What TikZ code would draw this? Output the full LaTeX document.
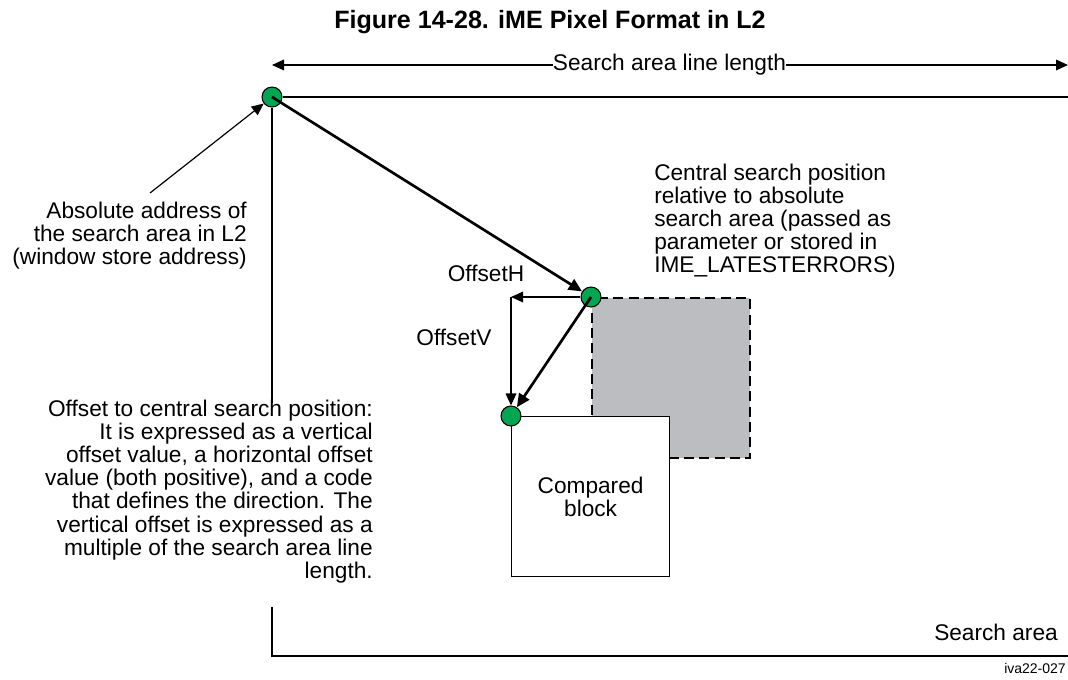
\documentclass[tikz,border=0pt]{standalone}
\usepackage{fontspec}
\setmainfont{Liberation Sans}
\usetikzlibrary{arrows.meta,positioning,calc}
\definecolor{dotgreen}{RGB}{0,166,81}
\definecolor{wingray}{RGB}{188,189,193}

\begin{document}
\begin{tikzpicture}[x=0.75pt, y=-0.75pt,
  arrow/.style={-{Triangle[length=9pt,width=8pt]}, line width=0.9pt},
  bigarrow/.style={-{Triangle[length=10pt,width=9pt]}, line width=2pt},
  dot/.style={draw, circle, fill=dotgreen, minimum size=15pt, inner sep=0pt, line width=0.8pt},
  txt/.style={font=\fontsize{17}{17.3}\selectfont, inner sep=0pt}]
\useasboundingbox (0,0) rectangle (1068,679);
\node[font=\fontsize{18.8}{20}\selectfont\bfseries] (title) at (550,22) {Figure 14-28. iME Pixel Format in L2};

\node[txt] (len) at (669.5,65) {Search area line length};
\coordinate (lenL) at (272,65);
\coordinate (lenR) at (1068,65);
\draw[arrow] (len.west) -- (lenL);
\draw[arrow] (len.east) -- (lenR);

\node[draw, fill=wingray, dash pattern=on 7.5pt off 4pt, line width=1.5pt, minimum width=118.5pt, minimum height=120pt, anchor=north west, inner sep=0pt] (win) at (591,297) {};
\node[txt, draw, fill=white, line width=0.9pt, minimum width=118.5pt, minimum height=120pt, anchor=north west, align=center] (cmp) at (511,416) {Compared\\block};

\node[dot] (A) at (272,97) {};
\node[dot] (B) at (591,297) {};
\node[dot] (C) at (511,416) {};

\coordinate (saTR) at (1068,97);
\coordinate (gapT) at (272,403);
\coordinate (gapB) at (272,607);
\coordinate (saBL) at (272,656);
\coordinate (saBR) at (1068,656);
\draw[line width=0.9pt] (A) -- (saTR);
\draw[line width=0.9pt] (A) -- (gapT);
\draw[line width=0.9pt] (gapB) -- (saBL) -- (saBR);

\node[txt] (offH) at (486,273) {OffsetH};
\node[txt] (offV) at (454,337) {OffsetV};
\coordinate (corner) at (511,297);
\draw[arrow] (B) -- (corner);
\draw[arrow] (corner) -- (C);

\draw[bigarrow] (A.center) -- (B);
\draw[bigarrow] (B.center) -- (C);

\node[txt, align=right, anchor=north east] (absTxt) at (247,202) {Absolute address of\\the search area in L2\\(window store address)};
\coordinate (absFoot) at (150,193);
\draw[arrow] (absFoot) -- (A);

\node[txt, align=left, anchor=north west] (cenTxt) at (654,164) {Central search position\\relative to absolute\\search area (passed as\\parameter or stored in\\IME\_LATESTERRORS)};

\node[txt, align=right, anchor=north east] (offTxt) at (373,400) {Offset to central search position:\\It is expressed as a vertical\\offset value, a horizontal offset\\value (both positive), and a code\\that defines the direction. The\\vertical offset is expressed as a\\multiple of the search area line\\length.};

\node[txt] (saTxt) at (996,632) {Search area};
\node[font=\fontsize{10.5}{12}\selectfont, anchor=east, inner sep=0pt] (fig) at (1066,668) {iva22-027};
\end{tikzpicture}
\end{document}
